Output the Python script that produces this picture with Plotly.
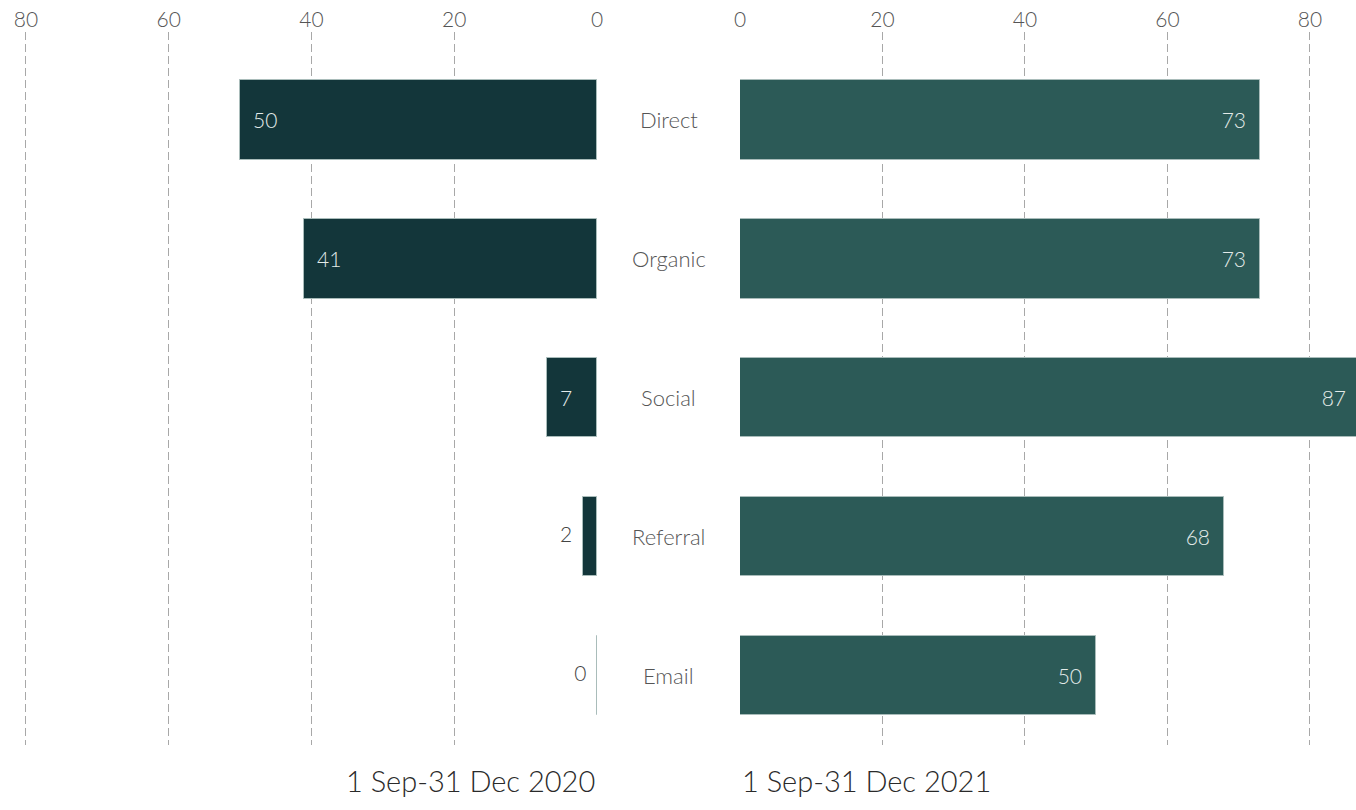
import plotly.graph_objects as go

# Traffic sources by channel, two periods
channels = ["Direct", "Organic", "Social", "Referral", "Email"]
sessions_2020 = [50, 41, 7, 2, 0]
sessions_2021 = [73, 73, 87, 68, 50]
period_2020 = "1 Sep-31 Dec 2020"
period_2021 = "1 Sep-31 Dec 2021"
tick_values = [0, 20, 40, 60, 80]

FONT = "Lato"
GRID = "#a8a8a8"
DARK = "#13363a"
TEAL = "#2c5a57"
OUTLINE = "#a9bcba"
PAD = "\u2002"
SMALL = 5  # bars shorter than this get their value written beside them

inside_2020 = [(PAD + str(v)) if v >= SMALL else "" for v in sessions_2020]
beside_2020 = [(str(v) + PAD) if v < SMALL else "" for v in sessions_2020]
labels_2021 = [str(v) + PAD for v in sessions_2021]

fig = go.Figure()

fig.add_trace(go.Bar(
    x=sessions_2020, y=channels, orientation="h",
    xaxis="x", yaxis="y",
    marker=dict(color=DARK, line=dict(color=OUTLINE, width=1)),
    width=0.575,
    text=inside_2020,
    textposition="inside",
    insidetextanchor="end",
    textangle=0,
    constraintext="none",
    insidetextfont=dict(family=FONT, size=21, color="#e3ebe9", weight=300),
    hoverinfo="x+y",
))

# values for the short bars, written just left of the bar end
fig.add_trace(go.Scatter(
    x=sessions_2020, y=channels,
    xaxis="x", yaxis="y",
    mode="text",
    text=beside_2020,
    textposition="middle left",
    textfont=dict(family=FONT, size=21, color="#444444", weight=300),
    hoverinfo="skip",
    cliponaxis=False,
))

fig.add_trace(go.Bar(
    x=sessions_2021, y=channels, orientation="h",
    xaxis="x2", yaxis="y2",
    marker=dict(color=TEAL, line=dict(color=OUTLINE, width=1)),
    width=0.575,
    text=labels_2021,
    textposition="inside",
    insidetextanchor="end",
    textangle=0,
    constraintext="none",
    insidetextfont=dict(family=FONT, size=21, color="#e3ebe9", weight=300),
    hoverinfo="x+y",
))

axis_common = dict(
    side="top",
    tickvals=tick_values,
    showgrid=True,
    gridcolor=GRID,
    gridwidth=1,
    griddash="8px,4px",
    zeroline=False,
    showline=False,
    ticks="",
    automargin=False,
    tickfont=dict(family=FONT, size=21, color="#555555", weight=300),
    fixedrange=True,
)

yaxis_common = dict(
    type="category",
    categoryorder="array",
    categoryarray=channels,
    range=[4.5, -0.63],
    showticklabels=False,
    showgrid=False,
    zeroline=False,
    showline=False,
    automargin=False,
    fixedrange=True,
)

left_end = 597 / 1356
right_start = 740 / 1356

fig.update_layout(
    width=1356,
    height=810,
    margin=dict(l=0, r=0, t=32, b=65, autoexpand=False),
    paper_bgcolor="white",
    plot_bgcolor="white",
    showlegend=False,
    bargap=0,
    xaxis=dict(domain=[0, left_end], range=[83.64, 0], autorange=False, anchor="y", **axis_common),
    xaxis2=dict(domain=[right_start, 1], range=[0, 86.46], autorange=False, anchor="y2", **axis_common),
    yaxis=dict(domain=[0, 1], anchor="x", **yaxis_common),
    yaxis2=dict(domain=[0, 1], anchor="x2", **yaxis_common),
)

# Channel names centred in the gap between the two panels
mid = (left_end + right_start) / 2
for ch in channels:
    fig.add_annotation(
        x=mid, xref="paper", y=ch, yref="y",
        text=ch, showarrow=False,
        font=dict(family=FONT, size=22, color="#555555", weight=300),
        xanchor="center", yanchor="middle",
    )

# Period titles under each panel
fig.add_annotation(
    x=left_end, xref="paper", y=-0.05, yref="paper",
    text=period_2020, showarrow=False,
    font=dict(family=FONT, size=29, color="#2a2a2a", weight=300),
    xanchor="right", yanchor="middle",
)
fig.add_annotation(
    x=right_start, xref="paper", y=-0.05, yref="paper",
    text=period_2021, showarrow=False,
    font=dict(family=FONT, size=29, color="#2a2a2a", weight=300),
    xanchor="left", yanchor="middle",
)

fig.write_html("out.html")
